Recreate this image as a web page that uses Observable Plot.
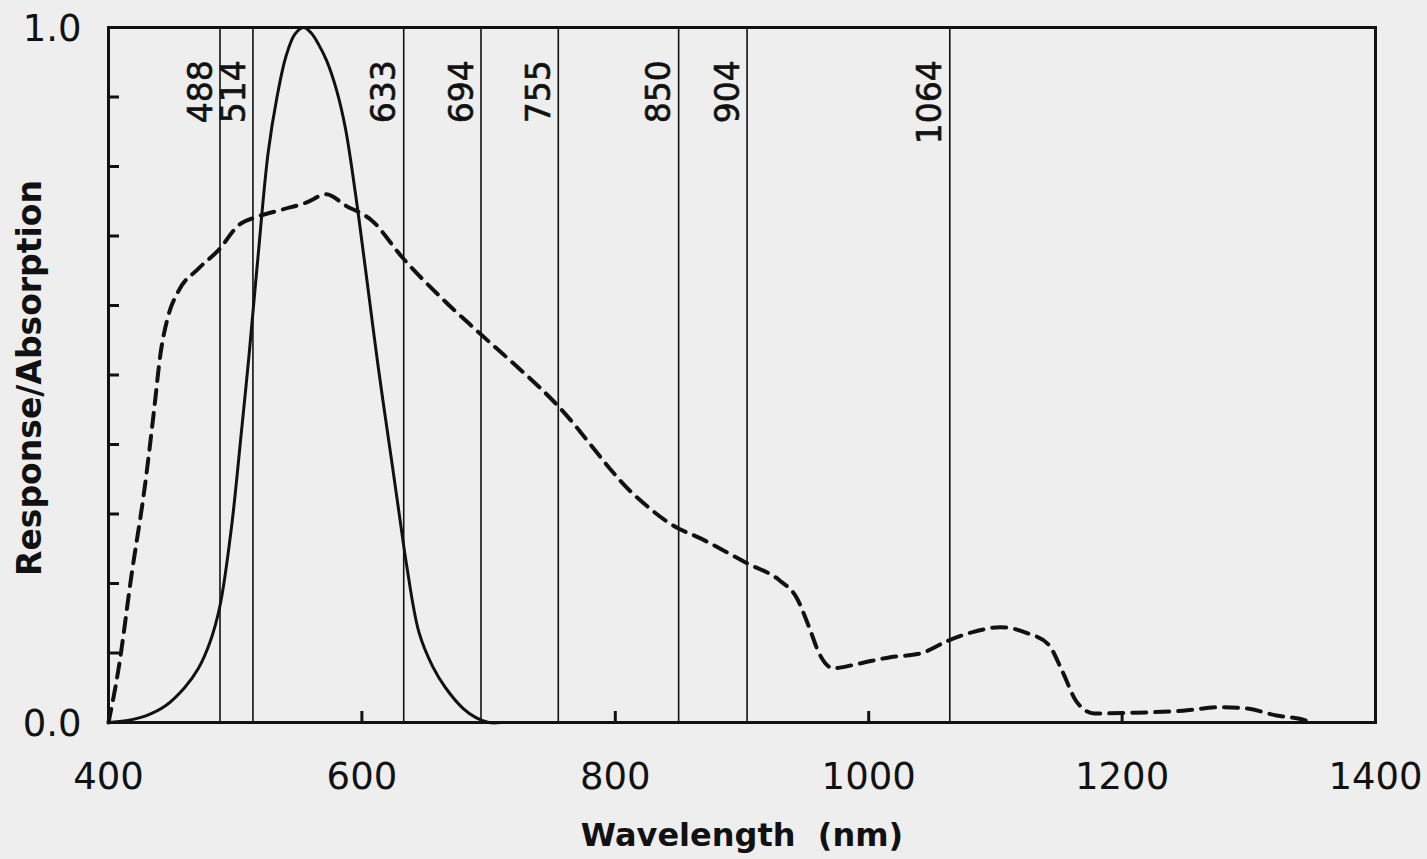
<!DOCTYPE html>
<html>
<head>
<meta charset="utf-8">
<script src="https://cdn.jsdelivr.net/npm/d3@7"></script>
<script src="https://cdn.jsdelivr.net/npm/@observablehq/plot@0.6"></script>
<style>
  html, body { margin: 0; padding: 0; background: #eeeeee; }
  #chart svg { display: block; }
</style>
</head>
<body>
<div id="chart"></div>
<script>
// Laser wavelengths (nm) drawn as vertical lines
const laserLines = [488, 514, 633, 694, 755, 850, 904, 1064];

// Solid curve: eye response
const solidWl  = [400, 415, 430, 445, 460, 471, 480, 488, 497, 505, 511, 518, 526, 533, 540, 547, 554, 560, 566, 572, 580, 587, 595, 603, 613, 624, 631, 635, 645, 656, 666, 680, 690, 700, 710];
const solidVal = [0.0, 0.003, 0.01, 0.024, 0.05, 0.078, 0.115, 0.168, 0.28, 0.42, 0.53, 0.67, 0.82, 0.90, 0.958, 0.99, 1.0, 0.992, 0.975, 0.953, 0.91, 0.855, 0.76, 0.65, 0.51, 0.37, 0.28, 0.23, 0.13, 0.08, 0.05, 0.02, 0.007, 0.0, 0.0];

// Dashed curve: absorption
const dashWl  = [400, 408, 418, 429, 436, 441, 447, 455, 471, 487, 503, 516, 537, 556, 572, 587, 608, 632, 669, 693, 753, 817, 848, 866, 904, 930, 943, 953, 961, 972, 993, 1017, 1040, 1063, 1082, 1104, 1126, 1142, 1153, 1164, 1178, 1209, 1248, 1277, 1299, 1322, 1341, 1350];
const dashVal = [0.0, 0.078, 0.21, 0.344, 0.45, 0.53, 0.584, 0.62, 0.653, 0.68, 0.716, 0.727, 0.738, 0.748, 0.76, 0.744, 0.722, 0.669, 0.60, 0.56, 0.459, 0.324, 0.281, 0.266, 0.229, 0.204, 0.18, 0.137, 0.099, 0.078, 0.085, 0.094, 0.099, 0.118, 0.13, 0.137, 0.128, 0.112, 0.073, 0.03, 0.013, 0.014, 0.017, 0.022, 0.02, 0.01, 0.005, 0.0];

// Axis ticks and labels
const xTickLabels = [400, 600, 800, 1000, 1200, 1400];
const xTickMarks  = [600, 800, 1000, 1200];
const yTickLabels = [0, 1];
const yTickMarks  = [0.1, 0.2, 0.3, 0.4, 0.5, 0.6, 0.7, 0.8, 0.9];
const xTitle = "Wavelength  (nm)";
const yTitle = "Response/Absorption";

const solid = solidWl.map((w, i) => ({wl: w, v: solidVal[i]}));
const dashed = dashWl.map((w, i) => ({wl: w, v: dashVal[i]}));

const font = "DejaVu Sans";

const chart = Plot.plot({
  width: 1427,
  height: 859,
  marginLeft: 108,
  marginRight: 52,
  marginTop: 27,
  marginBottom: 137,
  style: {background: "#eeeeee", fontFamily: font, color: "#111"},
  x: {domain: [400, 1400], axis: null},
  y: {domain: [0, 1], axis: null},
  marks: [
    Plot.ruleX(laserLines, {x: d => d, stroke: "#111", strokeWidth: 1.6}),
    Plot.text(laserLines, {
      x: d => d, y: 0.953, text: d => String(d),
      rotate: -90, textAnchor: "end", lineAnchor: "middle",
      dx: -19, fontSize: 33, fill: "#111", stroke: "#111", strokeWidth: 0.6
    }),
    Plot.line(dashed, {x: "wl", y: "v", curve: "monotone-x", stroke: "#111", strokeWidth: 4, strokeDasharray: "14,9"}),
    Plot.line(solid, {x: "wl", y: "v", curve: "catmull-rom", stroke: "#111", strokeWidth: 3}),
    Plot.ruleX(xTickMarks, {x: d => d, y1: 0, y2: 0, insetBottom: 11, stroke: "#111", strokeWidth: 3}),
    Plot.ruleY(yTickMarks, {y: d => d, x1: 400, x2: 400, insetRight: -11, stroke: "#111", strokeWidth: 3}),
    Plot.frame({stroke: "#111", strokeWidth: 3}),
    Plot.text(xTickLabels, {
      x: d => d, frameAnchor: "bottom", text: d => String(d),
      dy: 55, lineAnchor: "middle", fontSize: 37, fill: "#111"
    }),
    Plot.text(yTickLabels, {
      y: d => d, frameAnchor: "left", text: d => d.toFixed(1),
      textAnchor: "end", dx: -27, dy: 2, lineAnchor: "middle", fontSize: 37, fill: "#111"
    }),
    Plot.text([xTitle], {
      frameAnchor: "bottom", text: d => d, dy: 113, lineAnchor: "middle", textAnchor: "middle",
      fontSize: 32, fontWeight: "bold", fill: "#111"
    }),
    Plot.text([yTitle], {
      frameAnchor: "left", text: d => d, rotate: -90, dx: -78, dy: 3, lineAnchor: "middle", textAnchor: "middle",
      fontSize: 33, fontWeight: "bold", fill: "#111"
    })
  ]
});

document.getElementById("chart").appendChild(chart);
</script>
</body>
</html>
